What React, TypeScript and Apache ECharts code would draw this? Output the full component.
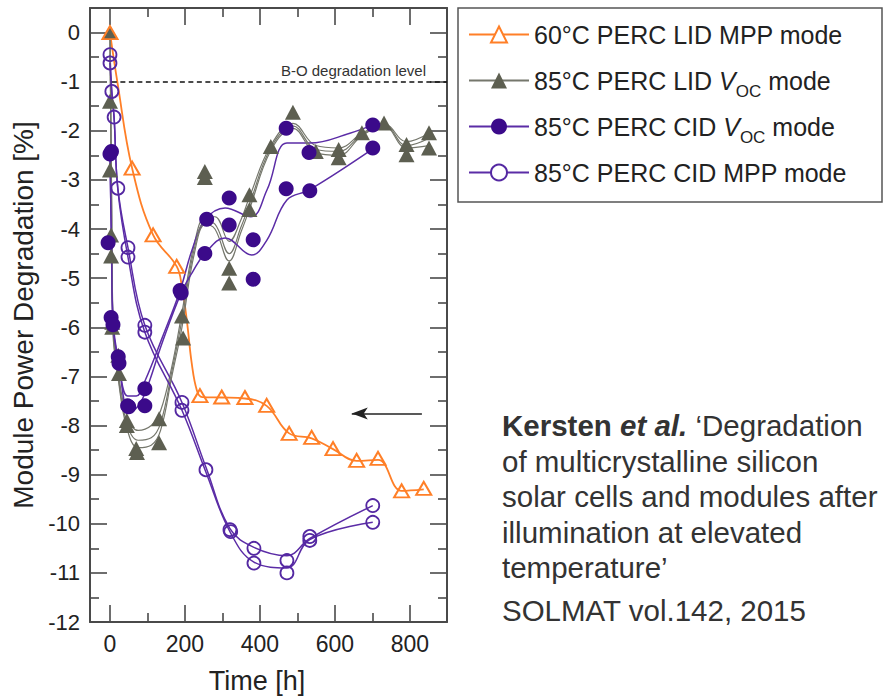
import React, { useEffect, useRef } from 'react';
import * as echarts from 'echarts';

const FONT = '"Liberation Sans", Arial, Helvetica, sans-serif';

// ---------- axes / ticks ----------
const X_MIN = -53.3;
const X_MAX = 899;
const Y_MIN = -12;
const Y_MAX = 0.5;
const xMajorTicks = [0, 200, 400, 600, 800];
const xMinorTicks = [100, 300, 500, 700];
const yMajorTicks = [-12, -11, -10, -9, -8, -7, -6, -5, -4, -3, -2, -1, 0];
const yMinorTicks = [-11.5, -10.5, -9.5, -8.5, -7.5, -6.5, -5.5, -4.5, -3.5, -2.5, -1.5, -0.5];

// ---------- series names ----------
const seriesNames = [
  '60°C PERC LID MPP mode',
  '85°C PERC LID VOC mode',
  '85°C PERC CID VOC mode',
  '85°C PERC CID MPP mode',
];
const legendLabels = [
  '{t|60°C PERC LID MPP mode}{s| }',
  '{t|85°C PERC LID }{v|V}{s|OC}{t| mode}',
  '{t|85°C PERC CID }{v|V}{s|OC}{t| mode}',
  '{t|85°C PERC CID MPP mode}{s| }',
];

// ---------- 60°C PERC LID MPP (orange, open triangles) ----------
const orangePoints = [
  [0, 0], [59, -2.76], [115, -4.12], [178, -4.76], [240, -7.39], [298, -7.42],
  [360, -7.43], [418, -7.59], [478, -8.16], [538, -8.24], [595, -8.47],
  [658, -8.71], [715, -8.67], [778, -9.33], [837, -9.28],
];
const orangeFit = [
  [0, 0], [20, -1.02], [59, -2.76], [115, -4.12], [178, -4.76], [192, -5.18],
  [205, -5.86], [218, -6.73], [232, -7.29], [246, -7.42], [298, -7.43],
  [360, -7.45], [418, -7.6], [478, -8.16], [538, -8.26], [595, -8.48],
  [658, -8.72], [715, -8.7], [778, -9.33], [837, -9.3],
];

// ---------- 85°C PERC LID Voc (grey, filled triangles) ----------
const grayPoints = [
  [0, 0], [0, -1.4], [0, -2.8], [3, -4.12], [3, -4.55], [6, -5.9], [6, -6.0],
  [22, -6.57], [24, -6.94], [45, -7.9], [45, -8.0], [70, -8.47], [72, -8.55],
  [131, -7.86], [131, -8.35], [192, -5.77], [195, -6.22], [253, -2.83],
  [253, -2.95], [318, -4.8], [318, -5.1], [372, -3.3], [372, -3.6],
  [429, -2.32], [488, -1.62], [549, -2.42], [610, -2.38], [610, -2.55],
  [672, -2.04], [731, -1.84], [791, -2.28], [791, -2.49], [851, -2.04],
  [851, -2.35],
];
const grayFitA = [
  [0, 0], [4, -3.0], [8, -5.8], [22, -6.9], [45, -7.8], [75, -8.1], [110, -8.0],
  [135, -7.7], [165, -6.8], [192, -5.7], [225, -4.3], [255, -3.75], [280, -3.75],
  [318, -4.25], [350, -3.8], [372, -3.35], [429, -2.3], [488, -1.85], [549, -2.3],
  [610, -2.35], [672, -2.05], [731, -1.86], [791, -2.22], [851, -2.05],
];
const grayFitB = [
  [0, 0], [4, -3.2], [8, -6.0], [22, -7.0], [45, -7.95], [75, -8.3], [110, -8.25],
  [135, -7.95], [165, -6.9], [192, -5.85], [225, -4.4], [255, -3.85], [280, -3.9],
  [318, -4.5], [350, -3.95], [372, -3.5], [429, -2.35], [488, -1.9], [549, -2.38],
  [610, -2.42], [672, -2.08], [731, -1.88], [791, -2.3], [851, -2.15],
];
const grayFitC = [
  [0, 0], [4, -3.4], [8, -6.1], [22, -7.05], [45, -8.05], [75, -8.45], [110, -8.4],
  [135, -8.1], [165, -7.0], [192, -6.0], [225, -4.5], [255, -3.9], [280, -4.0],
  [318, -4.65], [350, -4.05], [372, -3.6], [429, -2.4], [488, -1.95], [549, -2.45],
  [610, -2.5], [672, -2.1], [731, -1.9], [791, -2.35], [851, -2.3],
];

// ---------- 85°C PERC CID Voc (purple, filled circles) ----------
const filledPoints = [
  [0, -2.47], [4, -2.42], [-5, -4.28], [3, -5.8], [8, -5.95], [22, -6.6],
  [24, -6.73], [47, -7.6], [50, -7.62], [93, -7.25], [93, -7.6], [187, -5.25],
  [190, -5.3], [258, -3.8], [253, -4.5], [318, -3.37], [318, -3.92],
  [382, -4.22], [382, -5.02], [470, -1.95], [470, -3.18], [531, -2.44],
  [533, -3.22], [701, -1.88], [701, -2.35],
];
const filledFitUpper = [
  [0, -2.45], [4, -4.3], [8, -5.85], [22, -6.65], [47, -7.4], [70, -7.4],
  [93, -7.1], [140, -6.2], [187, -5.25], [220, -4.4], [255, -3.8], [307, -3.57],
  [376, -3.75], [419, -3.2], [472, -2.25], [533, -2.25], [640, -2.05], [701, -1.88],
];
const filledFitLower = [
  [0, -2.42], [4, -4.3], [8, -5.95], [24, -6.75], [50, -7.7], [70, -7.65],
  [93, -7.35], [140, -6.3], [190, -5.3], [222, -4.85], [253, -4.5], [307, -4.18],
  [378, -4.53], [419, -4.22], [472, -3.41], [533, -3.2], [701, -2.37],
];

// ---------- 85°C PERC CID MPP (purple, open circles) ----------
const openPoints = [
  [0, -0.45], [0, -0.62], [5, -1.2], [11, -1.72], [21, -3.17], [48, -4.38],
  [48, -4.57], [93, -5.96], [93, -6.1], [192, -7.53], [192, -7.69], [256, -8.9],
  [320, -10.12], [322, -10.16], [384, -10.5], [384, -10.8], [472, -10.75],
  [472, -11.0], [533, -10.26], [533, -10.34], [701, -9.63], [701, -9.97],
];
const openFitUpper = [
  [0, -0.45], [5, -1.2], [11, -1.72], [21, -3.17], [48, -4.38], [93, -5.96],
  [192, -7.53], [256, -8.85], [320, -10.1], [384, -10.48], [472, -10.65],
  [533, -10.3], [701, -9.63],
];
const openFitLower = [
  [0, -0.62], [5, -1.25], [11, -1.75], [21, -3.2], [48, -4.57], [93, -6.1],
  [192, -7.69], [256, -8.95], [320, -10.16], [384, -10.78], [472, -10.9],
  [533, -10.32], [701, -9.97],
];

// ---------- reference marks ----------
const boLevel = -1;
const boStart = 5;
const arrowY = -7.755;
const arrowFrom = 832;
const arrowTo = 645;

const ORANGE = '#ff7f27';
const GRAY = '#5d5f51';
const GRAY_LINE = '#75776c';
const PURPLE_FILL = '#3b0a8a';
const PURPLE_LINE = '#5b2ca6';
const PURPLE_OPEN = '#5428a2';
const AXIS = '#4a4a4a';
const TEXT = '#222';
const CITE = '#333';
const CITE_SIZE = 29.5;
const CITE_LH = 35.5;

function xAxisDef(position: string, ticks: number[], len: number, line: boolean, labels: boolean) {
  return {
    type: 'value', position, min: X_MIN, max: X_MAX,
    splitLine: { show: false },
    axisLine: { show: line, onZero: false, lineStyle: { color: AXIS, width: 2 } },
    axisTick: { show: true, inside: true, length: len, customValues: ticks, lineStyle: { color: AXIS, width: 1.6 } },
    axisLabel: labels
      ? { show: true, customValues: ticks, fontSize: 23, fontFamily: FONT, color: TEXT, margin: 10 }
      : { show: false },
  };
}
function yAxisDef(position: string, ticks: number[], len: number, line: boolean, labels: boolean) {
  return {
    type: 'value', position, min: Y_MIN, max: Y_MAX,
    splitLine: { show: false },
    axisLine: { show: line, onZero: false, lineStyle: { color: AXIS, width: 2 } },
    axisTick: { show: true, inside: true, length: len, customValues: ticks, lineStyle: { color: AXIS, width: 1.6 } },
    axisLabel: labels
      ? { show: true, customValues: ticks, fontSize: 22, fontFamily: FONT, color: TEXT, margin: 10 }
      : { show: false },
  };
}

function fitLine(name: string, data: number[][], color: string, width: number, symbol: string, itemColor: string) {
  return {
    type: 'line', name, data, smooth: 0.4, symbol, showSymbol: false, silent: true,
    lineStyle: { color, width }, itemStyle: { color: itemColor, opacity: 1 }, z: 3,
    emphasis: { disabled: true },
  };
}

function buildOption() {
  return {
    animation: false,
    backgroundColor: '#fff',
    grid: { left: 90, right: 436, top: 8, bottom: 75 },
    xAxis: [
      xAxisDef('bottom', xMajorTicks, 17, true, true),
      xAxisDef('bottom', xMinorTicks, 9, false, false),
      xAxisDef('top', xMajorTicks, 17, true, false),
      xAxisDef('top', xMinorTicks, 9, false, false),
    ],
    yAxis: [
      yAxisDef('left', yMajorTicks, 17, true, true),
      yAxisDef('left', yMinorTicks, 9, false, false),
      yAxisDef('right', yMajorTicks, 17, true, false),
      yAxisDef('right', yMinorTicks, 9, false, false),
    ],
    legend: {
      show: true, orient: 'vertical', left: 468, top: 15, padding: 0, itemGap: 7,
      itemWidth: 60, itemHeight: 20, selectedMode: false,
      data: seriesNames,
      formatter: (name: string) => legendLabels[seriesNames.indexOf(name)],
      textStyle: {
        fontFamily: FONT, fontSize: 25, color: TEXT, lineHeight: 30,
        rich: {
          t: { fontFamily: FONT, fontSize: 25, color: TEXT, lineHeight: 30 },
          v: { fontFamily: FONT, fontSize: 25, color: TEXT, lineHeight: 30, fontStyle: 'italic' },
          s: { fontFamily: FONT, fontSize: 17, color: TEXT, lineHeight: 30, padding: [22, 0, 0, 0] },
        },
      },
    },
    series: [
      fitLine(seriesNames[0], orangeFit, ORANGE, 1.8, 'emptyTriangle', ORANGE),
      fitLine(seriesNames[1], grayFitA, GRAY_LINE, 1.2, 'triangle', GRAY),
      fitLine(seriesNames[2], filledFitUpper, PURPLE_LINE, 1.5, 'circle', PURPLE_FILL),
      fitLine(seriesNames[3], openFitUpper, PURPLE_LINE, 1.5, 'emptyCircle', PURPLE_OPEN),
      fitLine(seriesNames[1], grayFitB, GRAY_LINE, 1.2, 'triangle', GRAY),
      fitLine(seriesNames[1], grayFitC, GRAY_LINE, 1.2, 'triangle', GRAY),
      fitLine(seriesNames[2], filledFitLower, PURPLE_LINE, 1.5, 'circle', PURPLE_FILL),
      fitLine(seriesNames[3], openFitLower, PURPLE_LINE, 1.5, 'emptyCircle', PURPLE_OPEN),
      {
        type: 'scatter', name: seriesNames[1], data: grayPoints, symbol: 'triangle',
        symbolSize: [16, 15], itemStyle: { color: GRAY, opacity: 1 }, z: 5, silent: true,
      },
      {
        type: 'scatter', name: seriesNames[2], data: filledPoints, symbol: 'circle',
        symbolSize: 15, itemStyle: { color: PURPLE_FILL, opacity: 1 }, z: 6, silent: true,
      },
      {
        type: 'scatter', name: seriesNames[3], data: openPoints, symbol: 'circle',
        symbolSize: 13,
        itemStyle: { color: 'rgba(255,255,255,0)', borderColor: PURPLE_OPEN, borderWidth: 1.8, opacity: 1 },
        z: 7, silent: true,
      },
      {
        type: 'scatter', name: seriesNames[0], data: orangePoints, symbol: 'triangle',
        symbolSize: [15, 13],
        itemStyle: { color: 'rgba(255,255,255,0)', borderColor: ORANGE, borderWidth: 2, opacity: 1 },
        z: 8, silent: true,
        markLine: {
          silent: true, animation: false, symbol: ['none', 'none'], label: { show: false },
          emphasis: { disabled: true },
          data: [
            [
              { coord: [boStart, boLevel], lineStyle: { type: [5, 3.5], color: '#111', width: 1.5 } },
              { coord: [X_MAX, boLevel], lineStyle: { type: [5, 3.5], color: '#111', width: 1.5 } },
            ],
            [
              { coord: [arrowFrom, arrowY], symbol: 'none', lineStyle: { type: 'solid', color: '#222', width: 1.6 } },
              { coord: [arrowTo, arrowY], symbol: 'arrow', symbolSize: [9, 16], lineStyle: { type: 'solid', color: '#222', width: 1.6 } },
            ],
          ],
        },
      },
    ],
    graphic: [
      {
        type: 'rect', shape: { x: 458, y: 8, width: 424, height: 194 }, silent: true,
        style: { fill: 'none', stroke: '#555', lineWidth: 1.5 },
      },
      {
        type: 'text', x: 426, y: 70, silent: true,
        style: { text: 'B-O degradation level', fontFamily: FONT, fontSize: 15, fill: '#333', align: 'right', verticalAlign: 'middle' },
      },
      {
        type: 'text', x: 23, y: 315, rotation: Math.PI / 2, silent: true,
        style: { text: 'Module Power Degradation [%]', fontFamily: FONT, fontSize: 28, fill: TEXT, align: 'center', verticalAlign: 'middle' },
      },
      {
        type: 'text', x: 257, y: 681, silent: true,
        style: { text: 'Time [h]', fontFamily: FONT, fontSize: 27, fill: TEXT, align: 'center', verticalAlign: 'middle' },
      },
      {
        type: 'text', x: 502, y: 408, silent: true,
        style: {
          text: '{b|Kersten }{bi|et al.}{r| ‘Degradation}\n{r|of multicrystalline silicon}\n{r|solar cells and modules after}\n{r|illumination at elevated}\n{r|temperature’}',
          fontFamily: FONT, fontSize: CITE_SIZE, fill: CITE, lineHeight: CITE_LH, align: 'left', verticalAlign: 'top',
          rich: {
            b: { fontFamily: FONT, fontSize: CITE_SIZE, fontWeight: 'bold', fill: CITE, lineHeight: CITE_LH },
            bi: { fontFamily: FONT, fontSize: CITE_SIZE, fontWeight: 'bold', fontStyle: 'italic', fill: CITE, lineHeight: CITE_LH },
            r: { fontFamily: FONT, fontSize: CITE_SIZE, fill: CITE, lineHeight: CITE_LH },
          },
        },
      },
      {
        type: 'text', x: 502, y: 610, silent: true,
        style: { text: 'SOLMAT vol.142, 2015', fontFamily: FONT, fontSize: CITE_SIZE, fill: CITE, align: 'left', verticalAlign: 'middle' },
      },
    ],
  };
}

export default function App() {
  const ref = useRef<HTMLDivElement>(null);
  useEffect(() => {
    if (!ref.current) return;
    const chart = echarts.init(ref.current, undefined, { renderer: 'svg' });
    chart.setOption(buildOption() as any);
    return () => chart.dispose();
  }, []);
  return (
    <div
      ref={ref}
      style={{ position: 'fixed', left: 0, top: 0, width: 883, height: 697, background: '#fff' }}
    />
  );
}
